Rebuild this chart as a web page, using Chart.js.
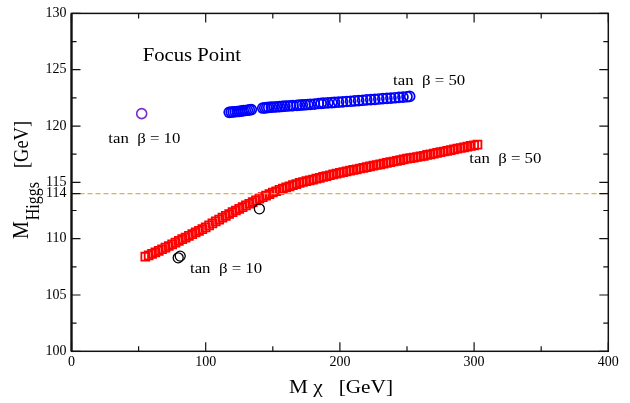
<!DOCTYPE html>
<html>
<head>
<meta charset="utf-8">
<script src="https://cdn.jsdelivr.net/npm/chart.js@4/dist/chart.umd.min.js"></script>
<style>
html,body{margin:0;padding:0;background:#fff;}
canvas{display:block;}
</style>
</head>
<body>
<canvas id="c" width="630" height="403"></canvas>
<script>
// ---- data ----
const xMajorTicks = [0, 100, 200, 300, 400];
const xMinorTicks = [50, 150, 250, 350];
const yMajorTicks = [100, 105, 110, 114, 115, 120, 125, 130];
const yMinorTicks = [102.5, 107.5, 112.5, 117.5, 122.5, 127.5];
const lepBound = 114;

// Red squares: tan beta = 50 (M_chi, M_Higgs)
const redX = [55,57.5,60,62.5,65,67.5,70,72.5,75,77.5,80,82.5,85,87.5,90,92.5,95,97.5,100,102.5,
  105,107.5,110,112.5,115,117.5,120,122.5,125,127.5,130,132.5,135,137.5,140,142.5,145,147.5,150,152.5,
  155,157.5,160,162.5,165,167.5,170,172.5,175,177.5,180,182.5,185,187.5,190,192.5,195,197.5,200,202.5,
  205,207.5,210,212.5,215,217.5,220,222.5,225,227.5,230,232.5,235,237.5,240,242.5,245,247.5,250,252.5,
  255,257.5,260,262.5,265,267.5,270,272.5,275,277.5,280,282.5,285,287.5,290,292.5,295,297.5,300,302.5];
const redY = [108.40,108.52,108.65,108.79,108.92,109.06,109.20,109.35,109.50,109.65,109.80,109.95,110.10,110.25,110.40,110.55,110.70,110.85,111.00,111.18,
  111.35,111.53,111.70,111.86,112.03,112.19,112.35,112.50,112.65,112.80,112.95,113.10,113.25,113.40,113.55,113.69,113.83,113.96,114.10,114.21,
  114.33,114.44,114.55,114.65,114.75,114.85,114.95,115.03,115.10,115.18,115.25,115.33,115.40,115.48,115.55,115.63,115.70,115.78,115.85,115.91,
  115.98,116.04,116.10,116.16,116.23,116.29,116.35,116.41,116.48,116.54,116.60,116.66,116.73,116.79,116.85,116.91,116.98,117.04,117.10,117.15,
  117.20,117.25,117.30,117.36,117.43,117.49,117.55,117.61,117.68,117.74,117.80,117.86,117.93,117.99,118.05,118.11,118.17,118.23,118.29,118.35];

// Blue circles: tan beta = 50
const blueX = [117.5,119,120.5,122,123.5,125,126.5,128,129.5,131,132.5,134,
  142.5,144,145.5,147,149,151,153,155,157,159,161,163,165,168,170,172,174,176,178,181,184,186,188,191,194,196,199,
  202,205,208,211,214,217,220,223,226,229,232,235,238,241,244,247,250,252];
const blueY = [121.22,121.24,121.25,121.27,121.29,121.31,121.33,121.36,121.38,121.40,121.43,121.46,
  121.60,121.62,121.63,121.65,121.67,121.69,121.71,121.72,121.74,121.76,121.78,121.80,121.82,121.84,121.86,121.87,121.89,121.91,121.93,121.95,122.00,122.01,122.03,122.05,122.08,122.10,122.13,
  122.15,122.18,122.20,122.23,122.26,122.29,122.32,122.35,122.37,122.40,122.43,122.45,122.48,122.51,122.54,122.57,122.60,122.63];

// Purple circle: tan beta = 10
const purpleX = [52.3];
const purpleY = [121.1];

// Black circles: tan beta = 10
const blackX = [79.5, 81, 140];
const blackY = [108.3, 108.45, 112.65];

// Text labels
const annotations = [
  {text: 'Focus Point', x: 53, y: 125.8, size: 18.5},
  {text: 'tan  \u03b2 = 10', x: 27.4, y: 118.47, size: 15},
  {text: 'tan  \u03b2 = 50', x: 239.6, y: 123.65, size: 15},
  {text: 'tan  \u03b2 = 50', x: 296.4, y: 116.72, size: 15},
  {text: 'tan  \u03b2 = 10', x: 88.3, y: 106.96, size: 15}
];
const xTitle = 'M \u03c7   [GeV]';
const yTitleMain = 'M';
const yTitleSub = 'Higgs';
const yTitleUnit = '   [GeV]';

// ---- build ----
const pts = (xs, ys) => xs.map((x, i) => ({x, y: ys[i]}));
const SERIF = '"Liberation Serif", "Times New Roman", serif';
const STRETCH = 1.12;

function sText(ctx, t, x, y, size, sx) {
  ctx.save();
  ctx.translate(x, y);
  ctx.scale(sx, 1);
  ctx.font = size + 'px ' + SERIF;
  ctx.fillText(t, 0, 0);
  ctx.restore();
}

const framePlugin = {
  id: 'frame',
  afterDatasetsDraw(chart) {
    const ctx = chart.ctx;
    const a = chart.chartArea;
    const xs = chart.scales.x, ys = chart.scales.y;
    ctx.save();
    ctx.strokeStyle = '#111';
    ctx.lineWidth = 1.5;
    ctx.strokeRect(a.left, a.top, a.right - a.left, a.bottom - a.top);
    ctx.lineWidth = 2.2;
    ctx.beginPath(); ctx.moveTo(a.left, a.top); ctx.lineTo(a.left, a.bottom); ctx.stroke();
    ctx.lineWidth = 1.2;
    ctx.beginPath();
    const xt = (vals, len) => vals.forEach(v => {
      const p = xs.getPixelForValue(v);
      ctx.moveTo(p, a.bottom); ctx.lineTo(p, a.bottom - len);
      ctx.moveTo(p, a.top); ctx.lineTo(p, a.top + len);
    });
    const yt = (vals, len) => vals.forEach(v => {
      const p = ys.getPixelForValue(v);
      ctx.moveTo(a.left, p); ctx.lineTo(a.left + len, p);
      ctx.moveTo(a.right, p); ctx.lineTo(a.right - len, p);
    });
    xt(xMajorTicks, 9); xt(xMinorTicks, 5);
    yt(yMajorTicks, 9); yt(yMinorTicks, 5);
    ctx.stroke();

    // annotations
    ctx.fillStyle = '#000';
    ctx.textBaseline = 'alphabetic';
    ctx.textAlign = 'left';
    annotations.forEach(an => {
      sText(ctx, an.text, xs.getPixelForValue(an.x), ys.getPixelForValue(an.y), an.size, STRETCH);
    });

    // x title
    sText(ctx, xTitle, 289, 393, 19, STRETCH);

    // y title (rotated)
    ctx.save();
    ctx.translate(28, 239);
    ctx.rotate(-Math.PI / 2);
    ctx.scale(1, STRETCH);
    ctx.font = '20px ' + SERIF;
    ctx.fillText(yTitleMain, 0, 0);
    let w = ctx.measureText(yTitleMain).width + 1;
    ctx.font = '16px ' + SERIF;
    ctx.fillText(yTitleSub, w, 10);
    w += ctx.measureText(yTitleSub).width;
    ctx.font = '18.5px ' + SERIF;
    ctx.fillText(yTitleUnit, w, 0);
    ctx.restore();
    ctx.restore();
  }
};

new Chart(document.getElementById('c'), {
  type: 'scatter',
  data: {
    datasets: [
      {type: 'line', data: [{x: 0, y: lepBound}, {x: 400, y: lepBound}], borderColor: 'rgb(245,170,50)',
       borderDash: [5, 3], borderWidth: 1.3, pointRadius: 0, order: 0},
      {data: pts(blackX, blackY), pointStyle: 'circle', pointRadius: 5, borderColor: '#000',
       backgroundColor: 'rgba(0,0,0,0)', borderWidth: 1.3, order: 1},
      {data: pts(purpleX, purpleY), pointStyle: 'circle', pointRadius: 5, borderColor: 'rgb(125,40,200)',
       backgroundColor: 'rgba(0,0,0,0)', borderWidth: 1.6, order: 2},
      {data: pts(blueX, blueY), pointStyle: 'circle', pointRadius: 5, borderColor: '#0000ff',
       backgroundColor: 'rgba(0,0,0,0)', borderWidth: 1.7, order: 3},
      {data: pts(redX, redY), pointStyle: 'rect', pointRadius: 5.6, borderColor: '#ff0000',
       backgroundColor: 'rgba(0,0,0,0)', borderWidth: 1.8, order: 4}
    ]
  },
  options: {
    responsive: false,
    animation: false,
    events: [],
    layout: {padding: {left: 0, top: 9.3, right: 21.7, bottom: 0}},
    plugins: {legend: {display: false}, tooltip: {enabled: false}},
    scales: {
      x: {
        type: 'linear', min: 0, max: 400,
        grid: {display: false, drawTicks: false},
        border: {display: false},
        afterBuildTicks: s => { s.ticks = xMajorTicks.map(v => ({value: v})); },
        afterFit: s => { s.height = 51.7; },
        ticks: {color: '#000', padding: 3, font: {family: SERIF, size: 14}, maxRotation: 0}
      },
      y: {
        type: 'linear', min: 100, max: 130,
        grid: {display: false, drawTicks: false},
        border: {display: false},
        afterBuildTicks: s => { s.ticks = yMajorTicks.map(v => ({value: v})); },
        afterFit: s => { s.width = 71.5; },
        ticks: {color: '#000', padding: 5, font: {family: SERIF, size: 14}, autoSkip: false}
      }
    }
  },
  plugins: [framePlugin]
});
</script>
</body>
</html>
